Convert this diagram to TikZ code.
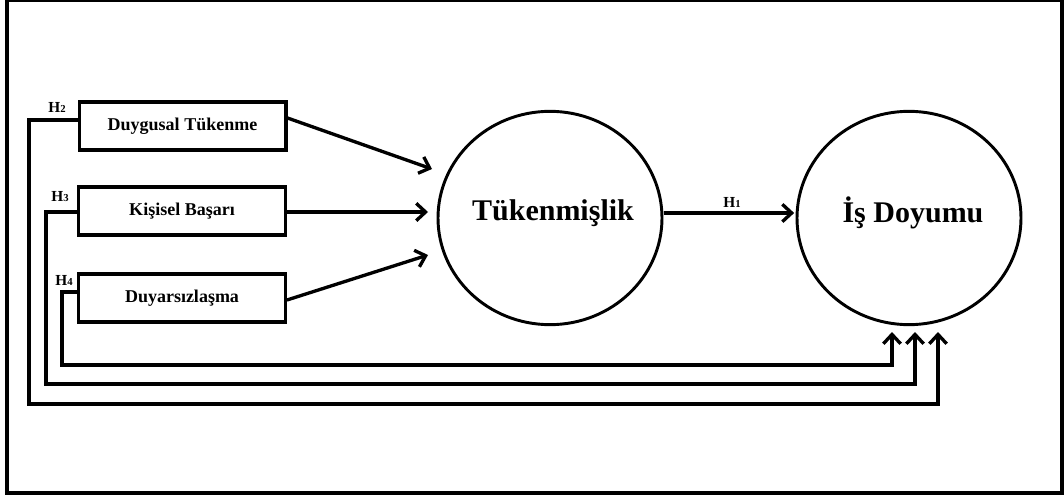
\documentclass[tikz,border=0pt]{standalone}
\usepackage{fontspec}
\setmainfont{Liberation Serif}
\usetikzlibrary{arrows.meta}
\begin{document}
\begin{tikzpicture}[x=0.75pt,y=-0.75pt,
  ln/.style={line width=2.5pt},
  arr/.style={ln,-{Straight Barb[length=7pt,width=13pt,line width=2.5pt]}},
  boxn/.style={draw,line width=2.5pt,minimum width=155pt,minimum height=36pt,inner sep=0pt,font=\bfseries\fontsize{13.5}{15}\selectfont},
  circn/.style={draw,circle,line width=2.2pt,minimum size=160pt,inner sep=0pt,xscale=1.05},
  ctext/.style={font=\bfseries\fontsize{22.5}{26}\selectfont},
  hlab/.style={inner sep=0pt,font=\bfseries\fontsize{11.5}{13}\selectfont}]
\useasboundingbox (0,0) rectangle (1064,499);
\draw[line width=2.6pt] (7,0) rectangle (1062,493);
% boxes
\node[boxn] (b1) at (182.5,126) {Duygusal Tükenme};
\node[boxn] (b2) at (182,211) {Kişisel Başarı};
\node[boxn] (b3) at (182,298) {Duyarsızlaşma};
% circles
\node[circn] (c1) at (550,218) {};
\node[ctext] (t1) at (553,213) {Tükenmişlik};
\node[circn] (c2) at (909,218) {};
\node[ctext] (t2) at (913,213) {İş Doyumu};
% arrow end points
\coordinate (e1) at (432,169);
\coordinate (e2) at (428,212);
\coordinate (e3) at (428,255);
\coordinate (u4) at (892,332);
\coordinate (u3) at (915,332);
\coordinate (u2) at (938,332);
% box to Tükenmişlik
\draw[arr] ([yshift=6pt]b1.east) -- (e1);
\draw[arr] ([yshift=-0.75pt]b2.east) -- (e2);
\draw[arr] ([yshift=-1.5pt]b3.east) -- (e3);
% H1
\draw[arr] ([yshift=3.75pt]c1.east) -- ([yshift=3.75pt,xshift=-1pt]c2.west);
\node[hlab] (h1) at (732,202) {H\fontsize{8}{9}\selectfont 1};
% feedback lines
\draw[arr] ([yshift=4.5pt]b1.west) -| (29,404) -| (u2);
\draw[arr] ([yshift=-0.75pt]b2.west) -| (46,384) -| (u3);
\draw[arr] ([yshift=4.5pt]b3.west) -| (62,365) -| (u4);
\node[hlab] (h2) at (57,107) {H\fontsize{8}{9}\selectfont 2};
\node[hlab] (h3) at (60,197) {H\fontsize{8}{9}\selectfont 3};
\node[hlab] (h4) at (64,280) {H\fontsize{8}{9}\selectfont 4};
\end{tikzpicture}
\end{document}
